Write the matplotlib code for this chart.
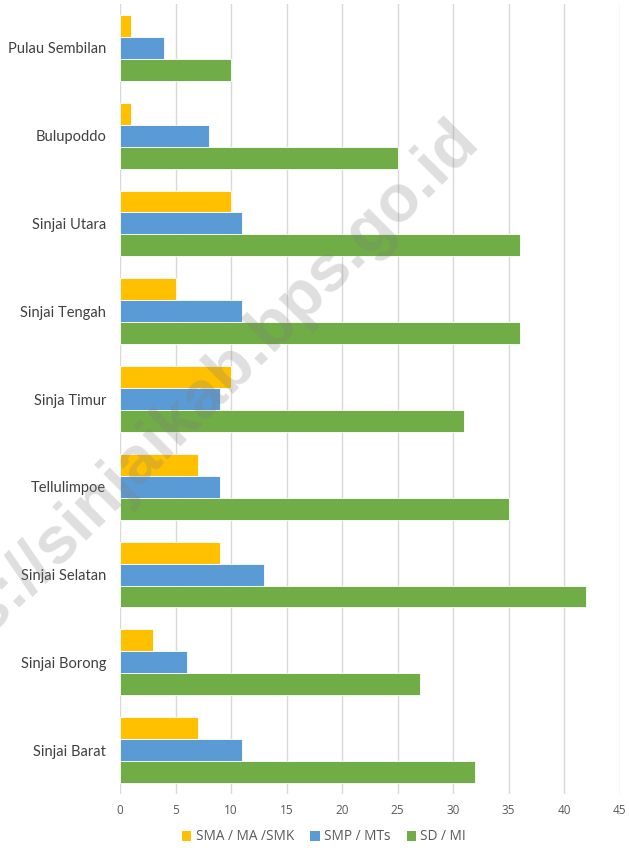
import matplotlib
matplotlib.use("Agg")
import matplotlib.pyplot as plt
import numpy as np
from matplotlib.patches import Patch

categories = ["Sinjai Barat", "Sinjai Borong", "Sinjai Selatan", "Tellulimpoe",
              "Sinja Timur", "Sinjai Tengah", "Sinjai Utara", "Bulupoddo", "Pulau Sembilan"]
sma = [7, 3, 9, 7, 10, 5, 10, 1, 1]
smp = [11, 6, 13, 9, 9, 11, 11, 8, 4]
sd = [32, 27, 42, 35, 31, 36, 36, 25, 10]
series_names = ["SMA / MA /SMK", "SMP / MTs", "SD / MI"]
colors = ["#FFC000", "#5B9BD5", "#70AD47"]
xticks = [0, 5, 10, 15, 20, 25, 30, 35, 40, 45]

W, H = 629, 848
fig = plt.figure(figsize=(W / 100, H / 100), dpi=100)
ax = fig.add_axes([120 / W, 1 - 794 / H, (619.5 - 120) / W, (794 - 4) / H])

y = np.arange(len(categories))
bh = 0.25
for vals, off, c in zip([sma, smp, sd], [bh, 0, -bh], colors):
    ax.barh(y + off, vals, height=bh, color=c, edgecolor="white", linewidth=0.6, zorder=3)

ax.set_ylim(-0.5, len(categories) - 0.5)
ax.set_xlim(0, 45)
ax.set_xticks(xticks)
ax.set_xticklabels([str(t) for t in xticks], fontsize=8.5, color="#595959", family="Open Sans")
ax.set_yticks(y)
ax.set_yticklabels(categories, fontsize=10.5, color="#404040", family="Lato")
ax.tick_params(axis="y", length=0, pad=10)
ax.tick_params(axis="x", length=0, pad=7)
ax.grid(axis="x", color="#D9D9D9", linewidth=1, zorder=0)
ax.set_axisbelow(True)
for s in ax.spines.values():
    s.set_visible(False)

handles = [Patch(facecolor=c, edgecolor="none") for c in colors]
fig.legend(handles, series_names, loc="center", bbox_to_anchor=(0.515, 1 - 837 / H),
           ncol=3, frameon=False, handlelength=0.7, handleheight=0.7,
           handletextpad=0.3, columnspacing=1.2, labelcolor="#595959",
           prop={"family": "Open Sans", "size": 9.8})

fig.text(480 / W, 1 - 142 / H, "https://sinjaikab.bps.go.id", rotation=45,
         rotation_mode="anchor", ha="right", va="baseline", fontsize=48,
         fontweight="bold", family="Liberation Sans", color="#7f7f7f", alpha=0.25,
         zorder=10)

fig.savefig("out.png", dpi=100)
